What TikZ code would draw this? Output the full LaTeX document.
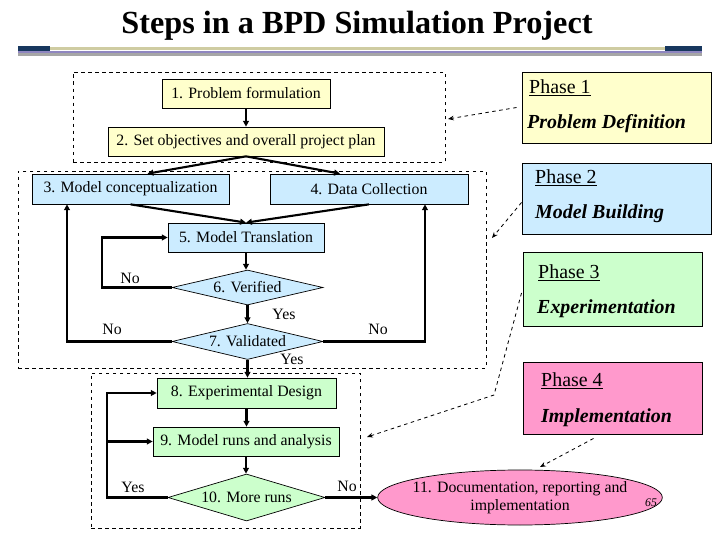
\documentclass[tikz,border=0pt]{standalone}
\usepackage{fontspec}
\setmainfont{Liberation Serif}
\definecolor{stepYellow}{HTML}{FFFFCC}
\definecolor{stepBlue}{HTML}{CCECFF}
\definecolor{stepGreen}{HTML}{CCFFCC}
\definecolor{stepPink}{HTML}{FF99CC}
\definecolor{barNavy}{HTML}{17375E}
\definecolor{barTan}{HTML}{CFCCA2}
\definecolor{barPurple}{HTML}{8F86C0}
\definecolor{barGray}{HTML}{A6A6A6}
\usetikzlibrary{arrows.meta, positioning, shapes.geometric, calc}

\begin{document}
\begin{tikzpicture}[
    x=0.03cm, y=-0.03cm,
    box/.style={rectangle, draw, line width=0.6pt, inner sep=0pt, font=\fontsize{13.5}{15}\selectfont},
    dec/.style={diamond, draw, line width=0.6pt, inner sep=0pt, font=\fontsize{13.5}{15}\selectfont},
    group/.style={rectangle, draw, dashed, line width=0.6pt, inner sep=0pt},
    phase/.style={rectangle, draw, line width=0.8pt, inner sep=0pt},
    ptitle/.style={anchor=west, inner sep=0pt, font=\fontsize{17}{19}\selectfont},
    pname/.style={anchor=west, inner sep=0pt, font=\fontsize{17}{19}\selectfont\bfseries\itshape},
    lbl/.style={inner sep=0pt, font=\fontsize{13.5}{15}\selectfont},
    arr/.style={-{Triangle[length=5pt,width=5pt]}, line width=1.8pt},
    darr/.style={-{Stealth[length=5pt,width=4pt]}, dashed, line width=0.7pt}
]
\useasboundingbox (0,0) rectangle (720,540);

% Title and header bars
\node[font=\fontsize{27.5}{30}\selectfont\bfseries] (title) at (357,26) {Steps in a BPD Simulation Project};
\fill[barNavy] (18,46) rectangle (50,51);
\fill[barTan] (50,47) rectangle (665,50);
\fill[barNavy] (665,46) rectangle (702,51);
\fill[barPurple] (18,51.5) rectangle (702,53);
\fill[barGray] (18,53.5) rectangle (702,56);

% Dashed phase groups
\node[group, minimum width=11.16cm, minimum height=2.7cm] (g1) at (259,117) {};
\node[group, minimum width=14.04cm, minimum height=5.91cm] (g2) at (252,269.5) {};
\node[group, minimum width=8.07cm, minimum height=4.65cm] (g3) at (225.5,450.5) {};

% Phase 1 steps
\node[box, fill=stepYellow, minimum width=5.04cm, minimum height=0.87cm] (b1) at (246,93.5) {1. Problem formulation};
\node[box, fill=stepYellow, minimum width=8.28cm, minimum height=0.87cm] (b2) at (246,141.5) {2. Set objectives and overall project plan};

% Phase 2 steps
\node[box, fill=stepBlue, minimum width=5.91cm, minimum height=0.9cm] (b3) at (130.5,189) {3. Model conceptualization};
\node[box, fill=stepBlue, minimum width=5.94cm, minimum height=0.9cm] (b4) at (369,189) {4. Data Collection};
\node[box, fill=stepBlue, minimum width=4.68cm, minimum height=0.87cm] (b5) at (246,237.5) {5. Model Translation};
\node[dec, fill=stepBlue, minimum width=4.53cm, minimum height=1.05cm, shape aspect=4.3] (d6) at (247.5,287.5) {6. Verified};
\node[dec, fill=stepBlue, minimum width=4.53cm, minimum height=1.08cm, shape aspect=4.2] (d7) at (247.5,341.5) {7. Validated};

% Phase 3 steps
\node[box, fill=stepGreen, minimum width=5.37cm, minimum height=0.9cm] (b8) at (246.5,393) {8. Experimental Design};
\node[box, fill=stepGreen, minimum width=5.58cm, minimum height=0.87cm] (b9) at (246,441.5) {9. Model runs and analysis};
\node[dec, fill=stepGreen, minimum width=4.71cm, minimum height=1.41cm, shape aspect=3.3] (d10) at (246.5,497.5) {10. More runs};

% Phase 4 step
\node[ellipse, draw, line width=0.6pt, fill=stepPink, inner xsep=-2mm, inner ysep=0pt, minimum width=8.52cm, minimum height=1.65cm, align=center, font=\fontsize{13.5}{15.5}\selectfont] (e11) at (520,497.5) {11. Documentation, reporting and\\implementation};
\node[font=\fontsize{10}{12}\selectfont\itshape, inner sep=0pt] (pg) at (651,503) {65};

% Phase legend boxes
\node[phase, fill=stepYellow, minimum width=5.67cm, minimum height=2.13cm] (p1) at (616.5,107.5) {};
\node[phase, fill=stepBlue, minimum width=5.67cm, minimum height=2.13cm] (p2) at (616.5,198.5) {};
\node[phase, fill=stepGreen, minimum width=5.37cm, minimum height=2.22cm] (p3) at (612.5,289) {};
\node[phase, fill=stepPink, minimum width=5.37cm, minimum height=2.16cm] (p4) at (612.5,398) {};
\node[ptitle] (p1t) at (529,88) {\underline{Phase 1}};
\node[pname] (p1n) at (527,124) {Problem Definition};
\node[ptitle] (p2t) at (535,178) {\underline{Phase 2}};
\node[pname] (p2n) at (535,214) {Model Building};
\node[ptitle] (p3t) at (538,273) {\underline{Phase 3}};
\node[pname] (p3n) at (537,309) {Experimentation};
\node[ptitle] (p4t) at (541,381) {\underline{Phase 4}};
\node[pname] (p4n) at (541,418) {Implementation};

% Flow arrows
\draw[arr] (b1.south) -- (b1.south |- b2.north);
\draw[arr] (b2.south) -- ($(b3.north)+(17,0)$);
\draw[arr] (b2.south) -- ($(b4.north)+(-29,0)$);
\draw[arr] (b3.south) -- (b5.north);
\draw[arr] (b4.south) -- (b5.north);
\draw[arr] (b5.south) -- (b5.south |- d6.north);
\draw[arr] (d6.west) -- ++(-70,0) |- (b5.west);
\draw[arr] (d6.south) -- (d6.south |- d7.north);
\draw[arr] (d7.west) -| ($(b3.south)+(-63.5,0)$);
\draw[arr] (d7.east) -| ($(b4.south)+(56,0)$);
\draw[arr] (d7.south) -- (d7.south |- b8.north);
\draw[arr] (b8.south) -- (b8.south |- b9.north);
\draw[arr] (b9.south) -- (b9.south |- d10.north);
\draw[arr] (d10.west) -- ++(-61,0) |- (b8.west);
\draw[arr] ($(d10.west)+(-61,0)$) |- (b9.west);
\draw[arr] (d10.east) -- (e11.west);

% Labels
\node[lbl] (no6) at (130,278) {No};
\node[lbl] (yes6) at (284,314) {Yes};
\node[lbl] (no7l) at (112,329) {No};
\node[lbl] (no7r) at (378,329) {No};
\node[lbl] (yes7) at (292,359) {Yes};
\node[lbl] (yes10) at (133,487) {Yes};
\node[lbl] (no10) at (347,486) {No};

% Dashed pointers
\coordinate (g1in) at (448,119);
\coordinate (g2in) at (492,238);
\coordinate (g3bend) at (494,395);
\coordinate (g3in) at (367,437);
\coordinate (e11in) at (540,467);
\draw[darr] ($(p1.west)+(-5,0)$) -- (g1in);
\draw[darr] ($(p2.west)+(0,4)$) -- (g2in);
\draw[darr] ($(p3.west)+(-1,4)$) -- (g3bend) -- (g3in);
\draw[darr] ($(p4.south)+(-19,4)$) -- (e11in);

\end{tikzpicture}
\end{document}
